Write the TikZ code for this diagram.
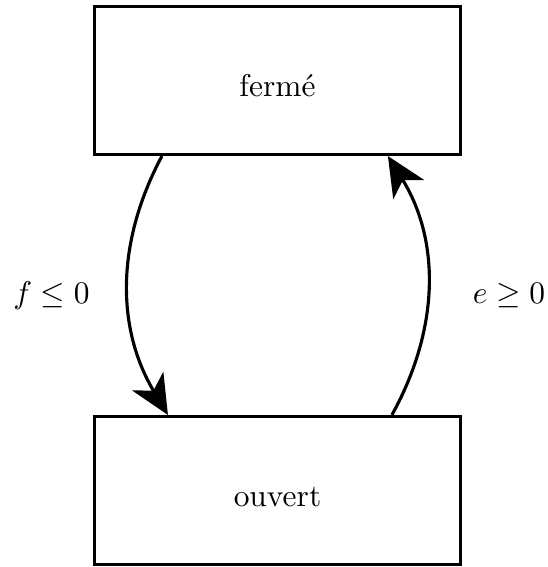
\documentclass[tikz,border=0pt]{standalone}
\usetikzlibrary{arrows.meta,calc}
\begin{document}
\begin{tikzpicture}[x=0.318pt,y=-0.318pt,
  statebox/.style={draw,line width=1pt,minimum width=366*0.318pt,minimum height=148*0.318pt,inner sep=0pt,text height=10pt,text depth=0pt},
  trans/.style={line width=1pt,-{Stealth[length=12.5pt,width=11.5pt,inset=3.5pt]}},
  lbl/.style={inner sep=0pt,anchor=base}]
\useasboundingbox (0,0) rectangle (548,567);
\node[statebox] (ferme) at (277.5,80.5) {fermé};
\node[statebox] (ouvert) at (277.5,490.5) {ouvert};
\draw[trans] ($(ferme.south west)+(69,0)$) .. controls (116,242) and (116,328) .. ($(ouvert.north west)+(75,0)$);
\draw[trans] ($(ouvert.north west)+(299,0)$) .. controls (440,328) and (440,240) .. ($(ferme.south west)+(295,0)$);
\node[lbl] (lf) at (51.5,303) {$f\leq 0$};
\node[lbl] (le) at (509,303) {$e\geq 0$};
\end{tikzpicture}
\end{document}
